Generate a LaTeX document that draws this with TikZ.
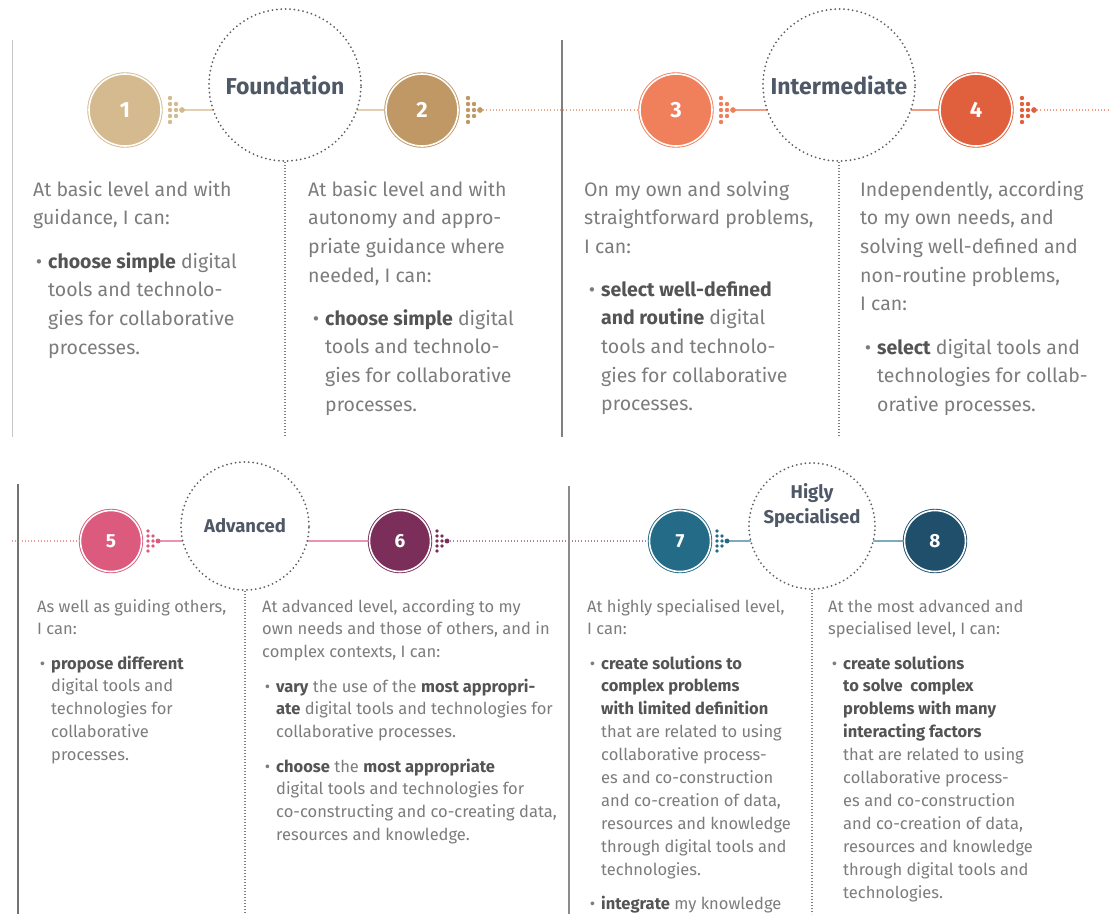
\documentclass[tikz,border=0pt]{standalone}
\usepackage{fontspec}
\setmainfont{Fira Sans}
\usetikzlibrary{positioning, backgrounds}
\definecolor{txt}{HTML}{7C7C7C}
\definecolor{txtdark}{HTML}{545454}
\definecolor{ringgray}{HTML}{5E5E5E}
\definecolor{lblgray}{HTML}{4F5866}
\definecolor{tanA}{HTML}{D5BA90}
\definecolor{tanB}{HTML}{BF9865}
\definecolor{tanLine}{HTML}{E2CFAF}
\definecolor{orA}{HTML}{F0805C}
\definecolor{orB}{HTML}{E0603D}
\definecolor{orLine}{HTML}{EE9C84}
\definecolor{pkA}{HTML}{DB5A7D}
\definecolor{pkLine}{HTML}{EC94AE}
\definecolor{plum}{HTML}{7A2E59}
\definecolor{plumLine}{HTML}{B57D9C}
\definecolor{tealA}{HTML}{236B86}
\definecolor{tealB}{HTML}{1F4F6A}
\definecolor{tealLine}{HTML}{7FAABE}
\newcommand{\hl}[1]{{\bfseries\color{txtdark}#1}}
\newcommand{\bul}{\llap{\textbullet\hspace{6pt}}}
% arrow of dots: position, colour, spacing, dot radius
\newcommand{\dotarrow}[4]{%
  \begin{scope}[shift={#1}]
    \foreach \j in {-2,...,2} \fill[#2] (0,\j*#3) circle[radius=#4];
    \foreach \j in {-1,0,1} \fill[#2] (#3,\j*#3) circle[radius=#4];
    \fill[#2] (2*#3,0) circle[radius=1.3*#4];
  \end{scope}}
\tikzset{
  lvl/.style={circle, fill=#1, draw=#1, double=white, double distance=1.6pt,
    line width=0.9pt, minimum size=72pt, inner sep=0pt, text=white,
    font=\bfseries\fontsize{22}{22}\selectfont},
  lvlsmall/.style={lvl=#1, minimum size=61pt, font=\bfseries\fontsize{19}{19}\selectfont},
  ring/.style={circle, draw=ringgray, fill=white, line width=2pt,
    dash pattern=on 0pt off 4.4pt, line cap=round, inner sep=0pt},
  lbl/.style={text=lblgray, font=\bfseries\fontsize{23}{24}\selectfont},
  lblsmall/.style={text=lblgray, align=center, font=\bfseries\fontsize{18.5}{25}\selectfont},
  % base of a text block = baseline of its last line
  toptext/.style={anchor=base west, align=left, inner sep=0pt, text=txt,
    font=\fontsize{19.5}{28.7}\selectfont},
  bottext/.style={anchor=base west, align=left, inner sep=0pt, text=txt,
    font=\fontsize{16.5}{22.9}\selectfont},
  dotline/.style={line width=1.1pt, dash pattern=on 0.9pt off 2.3pt},
  vdots/.style={ringgray!80, line width=1.2pt, dash pattern=on 0.8pt off 2.2pt},
}
\begin{document}
\begin{tikzpicture}[x=1pt, y=-1pt]
\useasboundingbox (0,0) rectangle (1111,914);

% ---- top: foundation / intermediate
\draw[black!22, line width=1pt] (12,40) -- (12,437);
\draw[black!50, line width=1.2pt] (562,40) -- (562,437);

\node[lvl=tanA] (n1) at (125,110) {1};
\node[ring, minimum size=152pt, label={[lbl]center:Foundation}] (found) at (285,85) {};
\node[lvl=tanB] (n2) at (422,110) {2};
\node[lvl=orA] (n3) at (676,110) {3};
\node[ring, minimum size=152pt, label={[lbl]center:Intermediate}] (inter) at (839,85) {};
\node[lvl=orB] (n4) at (976,110) {4};

\coordinate (d1) at (182,110);
\coordinate (d2) at (480,110);
\coordinate (d3) at (733,110);
\coordinate (d4) at (1034,110);
\coordinate (e4) at (1111,110);
\coordinate (fEnd) at (285,437);
\coordinate (iEnd) at (839,437);

\begin{scope}[on background layer]
  \draw[tanLine, line width=1.3pt] (d1) -- (n2);
  \draw[orLine!70!tanLine, dotline] (d2) -- (n3);
  \draw[orLine, line width=1.3pt] (d3) -- (n4);
  \draw[orLine, dotline] (d4) -- (e4);
\end{scope}
\draw[vdots] (found) -- (fEnd);
\draw[vdots] (inter) -- (iEnd);

\dotarrow{(170,110)}{tanA}{6}{2.2pt}
\dotarrow{(468,110)}{tanB}{6}{2.2pt}
\dotarrow{(721,110)}{orA}{6}{2.2pt}
\dotarrow{(1022,110)}{orB}{6}{2.2pt}

\node[toptext] (t1) at (33,224.7) {At basic level and with\\guidance, I can:};
\node[toptext] (t1b) at (48,354.1) {\bul\hl{choose simple} digital\\tools and technolo-\\gies for collaborative\\processes.};
\node[toptext] (t2) at (308,282.1) {At basic level and with\\autonomy and appro-\\priate guidance where\\needed, I can:};
\node[toptext] (t2b) at (325,411.1) {\bul\hl{choose simple} digital\\tools and technolo-\\gies for collaborative\\processes.};
\node[toptext] (t3) at (584,253.4) {On my own and solving\\straightforward problems,\\I can:};
\node[toptext] (t3b) at (601,410.8) {\bul\hl{select well-defined}\\\hl{and routine} digital\\tools and technolo-\\gies for collaborative\\processes.};
\node[toptext] (t4) at (860,310.8) {Independently, according\\to my own needs, and\\solving well-defined and\\non-routine problems,\\I can:};
\node[toptext] (t4b) at (877,411.4) {\bul\hl{select} digital tools and\\technologies for collab-\\orative processes.};

% ---- bottom: advanced / highly specialised
\draw[black!55, line width=1.2pt] (18,484) -- (18,914);
\draw[black!45, line width=1.2pt] (569,486) -- (569,914);

\node[lvlsmall=pkA] (n5) at (111,541) {5};
\node[ring, minimum size=128pt, label={[lblsmall]center:Advanced}] (adv) at (245,526) {};
\node[lvlsmall=plum] (n6) at (400,541) {6};
\node[lvlsmall=tealA] (n7) at (680,541) {7};
\node[ring, minimum size=126pt, label={[lblsmall, yshift=20pt]center:Higly\\Specialised}] (spec) at (812,526) {};
\node[lvlsmall=tealB] (n8) at (935,541) {8};

\coordinate (s5) at (12,541);
\coordinate (d5) at (158,541);
\coordinate (d6) at (447,541);
\coordinate (d7) at (727,541);
\coordinate (aEnd) at (245,914);
\coordinate (sEnd) at (812,914);

\begin{scope}[on background layer]
  \draw[orLine!60!pkLine, dotline] (s5) -- (n5);
  \draw[pkLine, line width=1.3pt] (d5) -- (n6);
  \draw[plumLine, dotline] (d6) -- (n7);
  \draw[tealLine, line width=1.3pt] (d7) -- (n8);
\end{scope}
\draw[vdots] (adv) -- (aEnd);
\draw[vdots] (spec) -- (sEnd);

\dotarrow{(148,541)}{pkA}{5}{1.9pt}
\dotarrow{(437,541)}{plum}{5}{1.9pt}
\dotarrow{(717,541)}{tealA}{5}{1.9pt}

\node[bottext] (t5) at (37,634.9) {As well as guiding others,\\I can:};
\node[bottext] (t5b) at (51,760.6) {\bul\hl{propose different}\\digital tools and\\technologies for\\collaborative\\processes.};
\node[bottext] (t6) at (262,657.8) {At advanced level, according to my\\own needs and those of others, and in\\complex contexts, I can:};
\node[bottext] (t6b) at (276,737.8) {\bul\hl{vary} the use of the \hl{most appropri-}\\\hl{ate} digital tools and technologies for\\collaborative processes.};
\node[bottext] (t6c) at (276,840.7) {\bul\hl{choose} the \hl{most appropriate}\\digital tools and technologies for\\co-constructing and co-creating data,\\resources and knowledge.};
\node[bottext] (t7) at (587,634.9) {At highly specialised level,\\I can:};
\node[bottext] (t7b) at (601,875.1) {\bul\hl{create solutions to}\\\hl{complex problems}\\\hl{with limited definition}\\that are related to using\\collaborative process-\\es and co-construction\\and co-creation of data,\\resources and knowledge\\through digital tools and\\technologies.};
\node[bottext] (t7c) at (601,909) {\bul\hl{integrate} my knowledge};
\node[bottext] (t8) at (828,634.9) {At the most advanced and\\specialised level, I can:};
\node[bottext] (t8b) at (843,898) {\bul\hl{create solutions}\\\hl{to solve\ \ complex}\\\hl{problems with many}\\\hl{interacting factors}\\that are related to using\\collaborative process-\\es and co-construction\\and co-creation of data,\\resources and knowledge\\through digital tools and\\technologies.};
\end{tikzpicture}
\end{document}
